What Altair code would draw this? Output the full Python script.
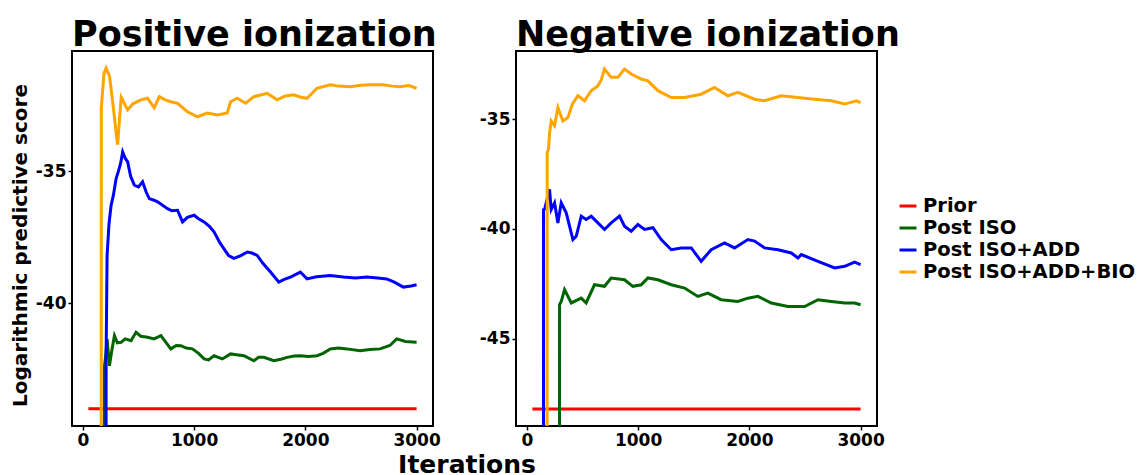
import altair as alt
import pandas as pd

SERIES = ["Prior", "Post ISO", "Post ISO+ADD", "Post ISO+ADD+BIO"]
COLORS = ["#FF0000", "#006400", "#0000FF", "#FFA500"]

# ---------------- Positive ionization ----------------
pos_prior_x = [50, 3000]
pos_prior_y = [-44.0, -44.0]

pos_iso_x = [50, 190, 194, 205, 218, 239, 260, 284, 310, 343, 380, 433, 478, 520, 582, 640, 702, 750,
             791, 840, 881, 930, 985, 1040, 1090, 1130, 1179, 1254, 1328, 1380, 1448, 1537, 1580, 1627,
             1716, 1780, 1836, 1900, 1955, 2030, 2104, 2160, 2224, 2300, 2373, 2492, 2580, 2672, 2760,
             2821, 2900, 3000]
pos_iso_y = [-100, -100, -42.4, -42.0, -41.35, -42.37, -41.8, -41.23, -41.5, -41.48, -41.35, -41.42,
             -41.1, -41.25, -41.29, -41.35, -41.23, -41.5, -41.73, -41.6, -41.61, -41.7, -41.73, -41.9,
             -42.11, -42.15, -41.99, -42.11, -41.92, -41.95, -41.99, -42.18, -42.05, -42.05, -42.18,
             -42.12, -42.05, -42.0, -41.99, -42.02, -41.99, -41.9, -41.73, -41.7, -41.73, -41.8, -41.75,
             -41.73, -41.6, -41.35, -41.45, -41.48]

pos_add_x = [50, 205, 209, 218, 235, 254, 275, 299, 320, 340, 358, 380, 403, 430, 463, 500, 537, 570,
             597, 640, 672, 720, 761, 800, 851, 896, 940, 1000, 1040, 1090, 1140, 1179, 1230, 1269,
             1310, 1358, 1420, 1478, 1520, 1567, 1620, 1687, 1761, 1810, 1866, 1955, 2015, 2100, 2224,
             2343, 2450, 2552, 2650, 2731, 2800, 2881, 2950, 3000]
pos_add_y = [-100, -100, -42.0, -38.19, -37.0, -36.29, -35.9, -35.28, -35.0, -34.7, -34.27, -34.5,
             -34.65, -35.2, -35.53, -35.6, -35.4, -35.8, -36.04, -36.1, -36.16, -36.3, -36.42, -36.5,
             -36.48, -36.92, -36.75, -36.67, -36.8, -36.92, -37.1, -37.3, -37.7, -37.94, -38.2, -38.3,
             -38.2, -38.06, -38.1, -38.19, -38.5, -38.82, -39.2, -39.1, -39.01, -38.82, -39.08, -39.0,
             -38.95, -39.01, -39.05, -39.01, -39.05, -39.08, -39.2, -39.39, -39.35, -39.3]

pos_bio_x = [50, 162, 166, 190, 209, 240, 280, 300, 313, 330, 345, 358, 380, 403, 450, 522, 582, 642,
             687, 740, 791, 851, 940, 1030, 1119, 1209, 1298, 1328, 1388, 1463, 1537, 1657, 1746, 1820,
             1895, 1960, 2015, 2104, 2224, 2300, 2403, 2500, 2582, 2701, 2780, 2851, 2930, 3000]
pos_bio_y = [-100, -100, -32.6, -31.3, -31.1, -31.4, -32.8, -33.6, -34.0, -33.0, -32.2, -32.3, -32.5,
             -32.68, -32.45, -32.3, -32.24, -32.6, -32.18, -32.3, -32.37, -32.43, -32.75, -32.94, -32.8,
             -32.87, -32.8, -32.37, -32.24, -32.43, -32.18, -32.05, -32.3, -32.15, -32.11, -32.2, -32.24,
             -31.86, -31.73, -31.78, -31.8, -31.75, -31.73, -31.73, -31.78, -31.8, -31.76, -31.86]

# ---------------- Negative ionization ----------------
neg_prior_x = [50, 3000]
neg_prior_y = [-48.21, -48.21]

neg_iso_x = [50, 291, 294, 310, 339, 399, 489, 533, 608, 698, 758, 878, 953, 1028, 1088, 1178, 1298,
             1418, 1537, 1627, 1747, 1897, 1987, 2077, 2197, 2347, 2497, 2617, 2737, 2857, 2946, 3000]
neg_iso_y = [-100, -100, -43.46, -43.3, -42.77, -43.38, -43.16, -43.38, -42.55, -42.62, -42.24, -42.32,
             -42.62, -42.55, -42.24, -42.32, -42.55, -42.7, -43.08, -42.93, -43.23, -43.31, -43.16,
             -43.08, -43.38, -43.54, -43.54, -43.23, -43.31, -43.38, -43.38, -43.46]

neg_add_x = [50, 148, 150, 160, 204, 219, 249, 279, 309, 354, 390, 414, 444, 489, 533, 578, 623, 698,
             758, 833, 878, 938, 998, 1058, 1133, 1208, 1298, 1388, 1478, 1567, 1657, 1777, 1867, 1987,
             2047, 2137, 2257, 2377, 2437, 2467, 2617, 2767, 2857, 2946, 3000]
neg_add_y = [-100, -100, -39.12, -39.1, -38.2, -39.12, -38.81, -39.73, -38.81, -39.27, -40.0, -40.49,
             -40.34, -39.42, -39.57, -39.42, -39.65, -40.03, -39.73, -39.42, -39.88, -40.11, -39.8,
             -40.03, -39.95, -40.49, -40.95, -40.87, -40.87, -41.48, -40.95, -40.64, -40.87, -40.49,
             -40.56, -40.87, -40.95, -41.1, -41.33, -41.17, -41.48, -41.78, -41.71, -41.52, -41.63]

neg_bio_x = [50, 180, 183, 195, 205, 219, 249, 279, 324, 369, 410, 459, 518, 578, 638, 670, 698, 758,
             818, 878, 938, 1028, 1088, 1178, 1298, 1418, 1567, 1687, 1807, 1897, 2047, 2137, 2287,
             2437, 2587, 2737, 2857, 2962, 3000]
neg_bio_y = [-100, -100, -36.52, -36.37, -35.6, -35.08, -35.3, -34.47, -35.08, -34.92, -34.3, -33.93,
             -34.16, -33.7, -33.48, -33.2, -32.71, -33.09, -33.09, -32.71, -32.94, -33.17, -33.25,
             -33.7, -34.01, -34.01, -33.86, -33.55, -33.93, -33.78, -34.09, -34.16, -33.93, -34.01,
             -34.09, -34.16, -34.31, -34.16, -34.24]


def frame(parts):
    rows = []
    for name, xs, ys in parts:
        for i, (x, y) in enumerate(zip(xs, ys)):
            rows.append({"series": name, "iter": x, "score": y, "idx": i})
    return pd.DataFrame(rows)


pos_df = frame([("Prior", pos_prior_x, pos_prior_y), ("Post ISO", pos_iso_x, pos_iso_y),
                ("Post ISO+ADD", pos_add_x, pos_add_y), ("Post ISO+ADD+BIO", pos_bio_x, pos_bio_y)])
neg_df = frame([("Prior", neg_prior_x, neg_prior_y), ("Post ISO", neg_iso_x, neg_iso_y),
                ("Post ISO+ADD", neg_add_x, neg_add_y), ("Post ISO+ADD+BIO", neg_bio_x, neg_bio_y)])

FONT = "DejaVu Sans"
X_DOMAIN = [-97.5, 3147.5]
color_scale = alt.Scale(domain=SERIES, range=COLORS)

COMMON = dict(grid=False, domain=False, tickColor="black", tickWidth=1.5, tickSize=4,
              labelFont=FONT, labelFontSize=17, labelFontWeight="bold", labelColor="black",
              labelPadding=2)


def panel(df, title, ydomain, yticks, ytitle, xtitle):
    if ytitle:
        y_axis = alt.Axis(values=yticks, labelExpr="'-' + abs(datum.value)", title=ytitle,
                          titleFont=FONT, titleFontSize=20, titleFontWeight="bold",
                          titleColor="black", titlePadding=5, titleY=194, **COMMON)
    else:
        y_axis = alt.Axis(values=yticks, labelExpr="'-' + abs(datum.value)", title=None, **COMMON)
    if xtitle:
        x_axis = alt.Axis(values=[0, 1000, 2000, 3000], format="d", title=xtitle,
                          titleFont=FONT, titleFontSize=25, titleFontWeight="bold",
                          titleColor="black", titleX=394.5, titleY=46, titleBaseline="alphabetic",
                          titleAlign="center", **COMMON)
    else:
        x_axis = alt.Axis(values=[0, 1000, 2000, 3000], format="d", title=None, **COMMON)
    return alt.Chart(df).mark_line(strokeWidth=3, clip=True).encode(
        x=alt.X("iter:Q", scale=alt.Scale(domain=X_DOMAIN, nice=False, zero=False), axis=x_axis),
        y=alt.Y("score:Q", scale=alt.Scale(domain=ydomain, nice=False, zero=False), axis=y_axis),
        color=alt.Color("series:N", scale=color_scale, sort=SERIES,
                        legend=alt.Legend(title=None, orient="none", legendX=826, legendY=145,
                                          symbolType="stroke", symbolStrokeWidth=3, symbolSize=289,
                                          labelFont=FONT, labelFontSize=19.5, labelFontWeight="bold",
                                          labelColor="black", labelOffset=5, rowPadding=2, padding=0,
                                          labelLimit=400)),
        order=alt.Order("idx:Q"),
    ).properties(
        width=361, height=375,
        title=alt.TitleParams(title, font=FONT, fontSize=35, fontWeight="bold", color="black",
                              anchor="start", frame="group", offset=-2),
    )


left = panel(pos_df, "Positive ionization", [-44.65, -30.45], [-35, -40],
             "Logarithmic predictive score", "Iterations")
right = panel(neg_df, "Negative ionization", [-48.99, -31.89], [-35, -40, -45], None, None)

chart = alt.hconcat(left, right, spacing=83, bounds="flush").properties(
    padding={"left": 9, "top": 17, "right": 0, "bottom": 0},
    background="white",
).configure_view(stroke="black", strokeWidth=2)

chart.save("out.html", embed_options={"renderer": "svg", "actions": False})
